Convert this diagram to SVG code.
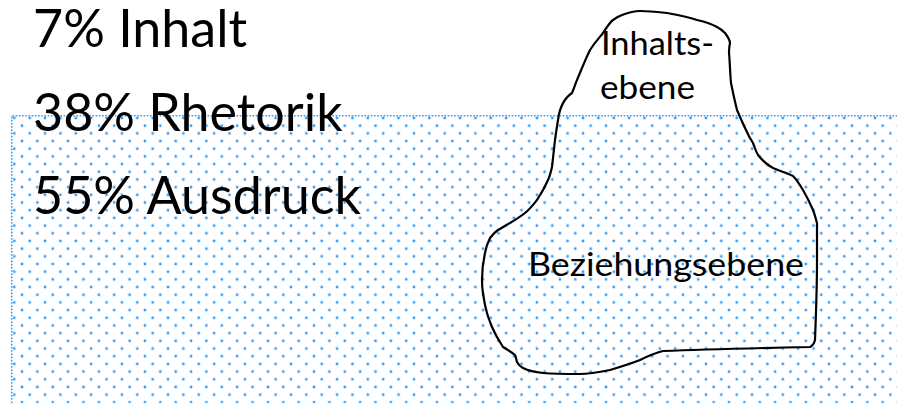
<svg xmlns="http://www.w3.org/2000/svg" width="897" height="403" viewBox="0 0 897 403">
  <style>
    .big { font-family: Lato, "Open Sans", sans-serif; font-size: 52px; fill: #000; }
    .lbl { font-family: Lato, "Open Sans", sans-serif; font-size: 33px; fill: #000; }
    .outline { fill: none; stroke: #000; stroke-width: 2.2; stroke-linejoin: round; stroke-linecap: round; }
  </style>
  <defs>
    <pattern id="dots" patternUnits="userSpaceOnUse" x="18.16" y="121.86" width="15.37" height="15.37">
      <circle cx="3.84" cy="3.84" r="1.4" fill="#2f9cf8"/>
      <circle cx="11.53" cy="11.53" r="1.4" fill="#2f9cf8"/>
    </pattern>
  </defs>
  <rect width="897" height="403" fill="#ffffff"/>
  <g id="water">
    <rect x="11.7" y="115.7" width="900" height="300" fill="url(#dots)"/>
    <path d="M11.7 403 V115.7 H897" fill="none" stroke="#2f9cf8" stroke-width="1.6" stroke-dasharray="1.6 1.6"/>
  </g>
  <g id="stats">
    <text class="big" x="33" y="47">7% Inhalt</text>
    <text class="big" x="33" y="131">38% Rhetorik</text>
    <text class="big" x="33" y="214">55% Ausdruck</text>
  </g>
  <g id="iceberg">
    <path class="outline" d="M558 120 C560 105 566 97 572 93 C575 86 576 82 577 80 C582 68 586 58 590 50 C595 42 600 37 603 33 C607 27 610 22 613 20 C617 17 619 16 622 15 C630 12 635 11 640 11 C650 11 658 12 667 13 C678 15 688 17 697 20 C706 22 712 24 717 27 C721 29 723 31 725 33 C728 37 730 40 730 43 C729 47 729 50 729 53 C730 63 730 73 731 83 C733 93 735 102 737 110 C740 117 743 124 746 130 C749 137 751 140 753 143 C755 148 756 152 758 155 C762 160 767 165 773 168 C780 171 787 173 793 176 C797 180 800 185 803 190 C807 197 810 203 813 210 C815 215 816 219 817 223 C817 240 817 250 817 260 C817 290 816 315 815 340 C814 344 812 346 810 347 C760 348 710 349 663 351 C655 353 648 356 640 360 C630 364 620 367 610 370 C600 372 590 374 580 374 C568 374 555 374 543 373 C533 372 527 370 523 368 C519 366 518 364 517 362 C516 358 516 357 515 355 C510 351 506 349 503 347 C499 341 495 334 492 327 C490 322 488 317 487 313 C485 306 484 300 483 293 C482 288 482 284 482 280 C482 271 483 262 485 253 C486 247 488 242 490 238 C493 234 495 232 498 230 C502 228 506 225 510 223 C515 220 520 217 525 213 C530 209 533 205 537 200 C541 194 545 187 548 180 C550 176 551 171 552 167 C553 158 554 149 555 140 C556 133 557 126 558 120 Z"/>
    <text class="lbl" x="601" y="55" textLength="113" lengthAdjust="spacingAndGlyphs">Inhalts-</text>
    <text class="lbl" x="600" y="99" textLength="95" lengthAdjust="spacingAndGlyphs">ebene</text>
  </g>
  <g id="beziehung">
    <text class="lbl" x="528" y="276" textLength="276" lengthAdjust="spacingAndGlyphs">Beziehungsebene</text>
  </g>
</svg>
